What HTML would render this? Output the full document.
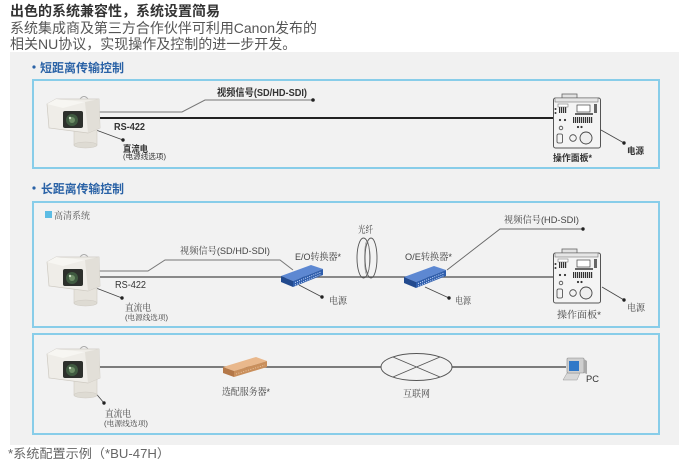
<!DOCTYPE html>
<html><head><meta charset="utf-8">
<style>
html,body{margin:0;padding:0;background:#fff;width:685px;height:470px;overflow:hidden}
svg{position:absolute;left:0;top:0}
.s{font-family:"Liberation Sans","Noto Sans CJK SC",sans-serif}
.r{font-family:"Liberation Sans","Noto Serif CJK SC",serif}
</style></head><body>
<svg width="685" height="470" viewBox="0 0 685 470" xmlns="http://www.w3.org/2000/svg">
<defs>
<pattern id="bars" width="2" height="4" patternUnits="userSpaceOnUse"><rect width="1.2" height="4" fill="#333"/></pattern>
<g id="cam">
  <path d="M34,3 q4,-5 8,0" fill="none" stroke="#aaa" stroke-width="1"/>
  <rect x="28" y="33" width="23" height="16" fill="#e6e3dc" stroke="#cfcbc3" stroke-width="0.6"/>
  <ellipse cx="39.5" cy="49" rx="11.5" ry="3" fill="#dedbd3" stroke="#cfcbc3" stroke-width="0.6"/>
  <rect x="33" y="30" width="14" height="5" fill="#d8d5ce"/>
  <path d="M1,8 L10,3 L53,3 L54,32 L42,37 L3,32 Z" fill="#efede8" stroke="#cdc9c1" stroke-width="0.7"/>
  <path d="M39,6 L53,3 L54,32 L42,37 Z" fill="#e2dfd8"/>
  <path d="M1,8 L10,3 L39,6 L17,12 Z" fill="#f7f6f2"/>
  <rect x="17" y="15" width="20" height="17" rx="2" fill="#2d302c"/>
  <circle cx="26" cy="24" r="6" fill="#3f5a40"/>
  <circle cx="26" cy="24" r="3" fill="#6d8d66"/>
  <circle cx="24" cy="22" r="1.2" fill="#cfe0c8"/>
</g>
<g id="panel">
  <rect x="9" y="0" width="15" height="5" fill="#e2e2e2" stroke="#666" stroke-width="0.8"/>
  <rect x="0.5" y="4" width="47" height="50" rx="2" fill="#f4f4f4" stroke="#555" stroke-width="1"/>
  <rect x="2" y="4" width="43" height="4" fill="#e6e6e6" stroke="#777" stroke-width="0.6"/>
  <rect x="6" y="13" width="8" height="6" fill="url(#bars)"/>
  <rect x="5" y="10" width="10" height="3" fill="#fff" stroke="#666" stroke-width="0.5"/>
  <rect x="24" y="11" width="13" height="7" fill="#fff" stroke="#444" stroke-width="0.7"/>
  <rect x="22" y="19" width="18" height="2" fill="#666"/>
  <rect x="41" y="10" width="3" height="9" fill="#666"/>
  <circle cx="2.5" cy="15" r="1" fill="#333"/><circle cx="2.5" cy="19" r="1" fill="#333"/>
  <rect x="20" y="23" width="20" height="6" fill="url(#bars)"/>
  <circle cx="7" cy="26" r="1.1" fill="#333"/><circle cx="12" cy="26" r="1.1" fill="#333"/>
  <circle cx="8" cy="34" r="1.8" fill="none" stroke="#444" stroke-width="0.8"/>
  <circle cx="25" cy="33" r="1.1" fill="#333"/><circle cx="28.5" cy="33" r="1.1" fill="#333"/>
  <rect x="4" y="40" width="5.5" height="9" rx="1.5" fill="none" stroke="#444" stroke-width="0.8"/>
  <circle cx="20" cy="44" r="3.3" fill="none" stroke="#444" stroke-width="0.8"/>
  <circle cx="33" cy="44" r="6" fill="#eee" stroke="#444" stroke-width="0.9"/>
</g>
<g id="conv">
  <path d="M281,276 L311,265 L323,269 L293,281 Z" fill="#5d88d2"/>
  <path d="M293,281 L323,269 L323,275 L293,287 Z" fill="#2f5eac"/>
  <path d="M281,276 L293,281 L293,287 L281,282 Z" fill="#224a8e"/>
  <path d="M295,282.5 L321,272" stroke="#cfe0ff" stroke-width="1" stroke-dasharray="1 1.2"/>
  <path d="M295,285 L321,274.5" stroke="#cfe0ff" stroke-width="1" stroke-dasharray="1 1.2"/>
</g>
</defs>

<!-- header -->
<text class="s" x="10" y="16" font-size="14" font-weight="bold" fill="#333" textLength="210" lengthAdjust="spacingAndGlyphs">出色的系统兼容性，系统设置简易</text>
<text class="s" x="10" y="33" font-size="14" fill="#555" textLength="307" lengthAdjust="spacingAndGlyphs">系统集成商及第三方合作伙伴可利用Canon发布的</text>
<text class="s" x="10" y="49" font-size="14" fill="#555">相关NU协议，实现操作及控制的进一步开发。</text>

<!-- gray panel -->
<rect x="10" y="52" width="669" height="393" fill="#f1f1f1"/>

<!-- section 1 -->
<circle cx="34" cy="67" r="1.6" fill="#2a62a6"/>
<text class="s" x="40" y="72" font-size="12" font-weight="bold" fill="#2a62a6" textLength="84" lengthAdjust="spacingAndGlyphs">短距离传输控制</text>
<rect x="33" y="80" width="626" height="88" fill="#f2f2f2" stroke="#88cde9" stroke-width="2"/>

<polyline points="97,112 182,112 205,100 313,100" fill="none" stroke="#777" stroke-width="1"/>
<circle cx="313" cy="100" r="1.8" fill="#222"/>
<line x1="97" y1="118" x2="554" y2="118" stroke="#222" stroke-width="2"/>
<line x1="96" y1="130" x2="123" y2="140" stroke="#444" stroke-width="0.8"/>
<circle cx="123" cy="140" r="1.7" fill="#222"/>
<use href="#cam" transform="translate(46,96)"/>
<use href="#panel" transform="translate(553,94)"/>
<line x1="601" y1="130" x2="624" y2="143" stroke="#444" stroke-width="0.8"/>
<circle cx="624" cy="143" r="1.7" fill="#222"/>

<text class="s" x="217" y="96" font-size="10" font-weight="bold" fill="#333" textLength="90" lengthAdjust="spacingAndGlyphs">视频信号(SD/HD-SDI)</text>
<text class="s" x="114" y="130" font-size="10" font-weight="bold" fill="#333" textLength="31" lengthAdjust="spacingAndGlyphs">RS-422</text>
<text class="s" x="123" y="152" font-size="9" font-weight="bold" fill="#333" textLength="25" lengthAdjust="spacingAndGlyphs">直流电</text>
<text class="s" x="123" y="159" font-size="7.5" fill="#333" textLength="43" lengthAdjust="spacingAndGlyphs">(电源线选项)</text>
<text class="s" x="553" y="161" font-size="9" font-weight="bold" fill="#333" textLength="39" lengthAdjust="spacingAndGlyphs">操作面板*</text>
<text class="s" x="627" y="154" font-size="9" font-weight="bold" fill="#333" textLength="17" lengthAdjust="spacingAndGlyphs">电源</text>

<!-- section 2 -->
<circle cx="34" cy="188" r="1.6" fill="#2a62a6"/>
<text class="s" x="41" y="193" font-size="12" font-weight="bold" fill="#2a62a6" textLength="83" lengthAdjust="spacingAndGlyphs">长距离传输控制</text>
<rect x="33" y="202" width="626" height="125" fill="#f2f2f2" stroke="#88cde9" stroke-width="2"/>
<rect x="45" y="211" width="7" height="7" fill="#5cbce4"/>
<text class="r" x="54" y="219" font-size="9.5" fill="#555" textLength="36" lengthAdjust="spacingAndGlyphs">高清系统</text>

<polyline points="97,271 148,271 165,260 280,260 293,270" fill="none" stroke="#777" stroke-width="1"/>
<line x1="97" y1="277" x2="553" y2="277" stroke="#666" stroke-width="1.4"/>
<polyline points="447,270 500,229 583,229" fill="none" stroke="#666" stroke-width="0.9"/>
<circle cx="583" cy="229" r="1.7" fill="#222"/>
<line x1="96" y1="288" x2="122" y2="298" stroke="#444" stroke-width="0.8"/>
<circle cx="122" cy="298" r="1.7" fill="#222"/>
<line x1="299" y1="285" x2="322" y2="297" stroke="#444" stroke-width="0.8"/>
<circle cx="322" cy="297" r="1.7" fill="#222"/>
<line x1="425" y1="287" x2="449" y2="298" stroke="#444" stroke-width="0.8"/>
<circle cx="449" cy="298" r="1.7" fill="#222"/>
<line x1="602" y1="287" x2="624" y2="300" stroke="#444" stroke-width="0.8"/>
<circle cx="624" cy="300" r="1.7" fill="#222"/>

<ellipse cx="363.5" cy="258" rx="6.5" ry="20" fill="none" stroke="#555" stroke-width="0.9"/>
<ellipse cx="371" cy="258" rx="6" ry="20" fill="none" stroke="#555" stroke-width="0.9"/>
<ellipse cx="367" cy="258" rx="2.5" ry="17" fill="none" stroke="#888" stroke-width="0.6"/>

<use href="#cam" transform="translate(46,254)"/>
<use href="#conv"/>
<use href="#conv" transform="translate(123,1)"/>
<use href="#panel" transform="translate(553,249)"/>

<text class="r" x="180" y="254" font-size="9.5" fill="#444" textLength="90" lengthAdjust="spacingAndGlyphs">视频信号(SD/HD-SDI)</text>
<text class="r" x="295" y="260" font-size="9.5" fill="#444" textLength="46" lengthAdjust="spacingAndGlyphs">E/O转换器*</text>
<text class="r" x="358" y="233" font-size="9.5" fill="#444" textLength="15" lengthAdjust="spacingAndGlyphs">光纤</text>
<text class="r" x="405" y="260" font-size="9.5" fill="#444" textLength="47" lengthAdjust="spacingAndGlyphs">O/E转换器*</text>
<text class="r" x="504" y="223" font-size="9.5" fill="#444" textLength="75" lengthAdjust="spacingAndGlyphs">视频信号(HD-SDI)</text>
<text class="s" x="115" y="288" font-size="10" fill="#333" textLength="31" lengthAdjust="spacingAndGlyphs">RS-422</text>
<text class="r" x="125" y="311" font-size="9.5" fill="#444" textLength="26" lengthAdjust="spacingAndGlyphs">直流电</text>
<text class="r" x="125" y="320" font-size="7.5" fill="#444" textLength="43" lengthAdjust="spacingAndGlyphs">(电源线选项)</text>
<text class="r" x="329" y="304" font-size="9.5" fill="#444" textLength="18" lengthAdjust="spacingAndGlyphs">电源</text>
<text class="r" x="455" y="304" font-size="9.5" fill="#444" textLength="16" lengthAdjust="spacingAndGlyphs">电源</text>
<text class="r" x="557" y="318" font-size="9.5" fill="#444" textLength="44" lengthAdjust="spacingAndGlyphs">操作面板*</text>
<text class="r" x="627" y="311" font-size="9.5" fill="#444" textLength="18" lengthAdjust="spacingAndGlyphs">电源</text>

<!-- section 3 -->
<rect x="33" y="334" width="626" height="100" fill="#f2f2f2" stroke="#88cde9" stroke-width="2"/>
<line x1="97" y1="367" x2="566" y2="367" stroke="#555" stroke-width="1.6"/>
<line x1="93" y1="390" x2="104" y2="403" stroke="#444" stroke-width="0.8"/>
<circle cx="104" cy="403" r="1.7" fill="#222"/>
<use href="#cam" transform="translate(46,346)"/>

<path d="M223,367 L256,357 L267,361 L234,371 Z" fill="#e9b88c"/>
<path d="M234,371 L267,361 L267,367 L234,377 Z" fill="#c98f5c"/>
<path d="M223,367 L234,371 L234,377 L223,373 Z" fill="#b47848"/>
<path d="M236,374 L265,365" stroke="#e8c4a0" stroke-width="1" stroke-dasharray="1 1.5"/>

<ellipse cx="416.5" cy="367" rx="35.5" ry="13.5" fill="#f2f2f2" stroke="#555" stroke-width="1"/>
<line x1="393" y1="357" x2="440" y2="377" stroke="#555" stroke-width="0.9"/>
<line x1="393" y1="377" x2="440" y2="357" stroke="#555" stroke-width="0.9"/>

<path d="M563,380 L567,373 L580,373 L577,380 Z" fill="#d8d8d8" stroke="#999" stroke-width="0.5"/>
<rect x="567" y="358" width="17" height="15" rx="1" fill="#cfcfcf" stroke="#888" stroke-width="0.6"/>
<path d="M584,359 L587,361 L587,374 L584,373 Z" fill="#aaa"/>
<rect x="569" y="361" width="10" height="10" fill="#2f78c8"/>

<text class="r" x="222" y="395" font-size="9.5" fill="#444" textLength="48" lengthAdjust="spacingAndGlyphs">选配服务器*</text>
<text class="r" x="403" y="397" font-size="9.5" fill="#444" textLength="27" lengthAdjust="spacingAndGlyphs">互联网</text>
<text class="s" x="586" y="382" font-size="9" fill="#333" textLength="13" lengthAdjust="spacingAndGlyphs">PC</text>
<text class="r" x="105" y="417" font-size="9.5" fill="#444" textLength="26" lengthAdjust="spacingAndGlyphs">直流电</text>
<text class="r" x="104" y="426" font-size="7.5" fill="#444" textLength="44" lengthAdjust="spacingAndGlyphs">(电源线选项)</text>

<!-- footer -->
<text class="s" x="8" y="458" font-size="12.5" fill="#666" textLength="162" lengthAdjust="spacingAndGlyphs">*系统配置示例（*BU-47H）</text>
</svg>
</body></html>
